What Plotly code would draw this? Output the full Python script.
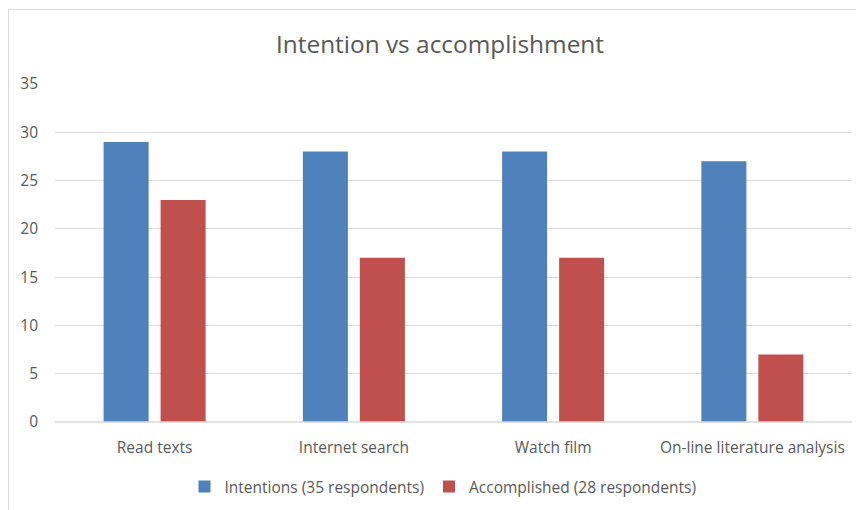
import plotly.graph_objects as go

categories = ["Read texts", "Internet search", "Watch film", "On-line literature analysis"]
intentions = [29, 28, 28, 27]
accomplished = [23, 17, 17, 7]
y_ticks = [0, 5, 10, 15, 20, 25, 30, 35]

# page body has an 8px default margin, so the figure is drawn at (8, 8)
OFF = 8
W, H = 864 - OFF, 510 - OFF
L = 55 - OFF
T = 84 - OFF
R = W - (852 - OFF)
B = H - (422.5 - OFF)
pw = W - L - R
ph = H - T - B

def px_x(x):
    return (x - OFF - L) / pw

def px_y(y):
    return (H - B - (y - OFF)) / ph

FONT = "Open Sans"
TXT = "#595959"

fig = go.Figure()
fig.add_trace(go.Bar(x=categories, y=intentions, name="Intentions (35 respondents)",
                     marker=dict(color="#4F81BD", line=dict(width=0))))
fig.add_trace(go.Bar(x=categories, y=accomplished, name="Accomplished (28 respondents)",
                     marker=dict(color="#C0504D", line=dict(width=0))))

fig.update_layout(
    width=W, height=H,
    margin=dict(l=L, r=R, t=T, b=B, autoexpand=False),
    paper_bgcolor="white", plot_bgcolor="white",
    barmode="group", bargap=0.428, bargroupgap=0.21,
    font=dict(family=FONT, color=TXT, size=15.5),
    title=dict(text="Intention vs accomplishment", x=(440 - OFF) / W, xref="container",
               xanchor="center", y=1 - (44 - OFF) / H, yref="container", yanchor="middle",
               font=dict(size=24.4, color=TXT, family=FONT)),
    showlegend=True,
    legend=dict(orientation="h", x=(443 - OFF) / W, xref="container", xanchor="center",
                y=1 - (487 - OFF) / H, yref="container", yanchor="middle",
                font=dict(size=15.5, color=TXT, family=FONT), itemwidth=30,
                traceorder="normal"),
    xaxis=dict(showgrid=False, showline=False, ticks="", tickfont=dict(size=15.5, color=TXT),
               automargin=False, ticklabelstandoff=14),
    yaxis=dict(range=[0, 35], tickvals=y_ticks, showgrid=True, gridcolor="#D9D9D9", gridwidth=1,
               zeroline=False, showline=False, ticks="", tickfont=dict(size=15.5, color=TXT),
               ticklabelstandoff=16, automargin=False),
    shapes=[
        dict(type="line", xref="paper", yref="paper", x0=0, x1=1, y0=0, y1=0,
             line=dict(color="#D9D9D9", width=1.5)),
        dict(type="rect", xref="paper", yref="paper", x0=px_x(8.5), x1=px_x(900),
             y0=px_y(560), y1=px_y(9.5), line=dict(color="#D9D9D9", width=1), layer="below"),
    ],
)

fig.write_html("out.html")
